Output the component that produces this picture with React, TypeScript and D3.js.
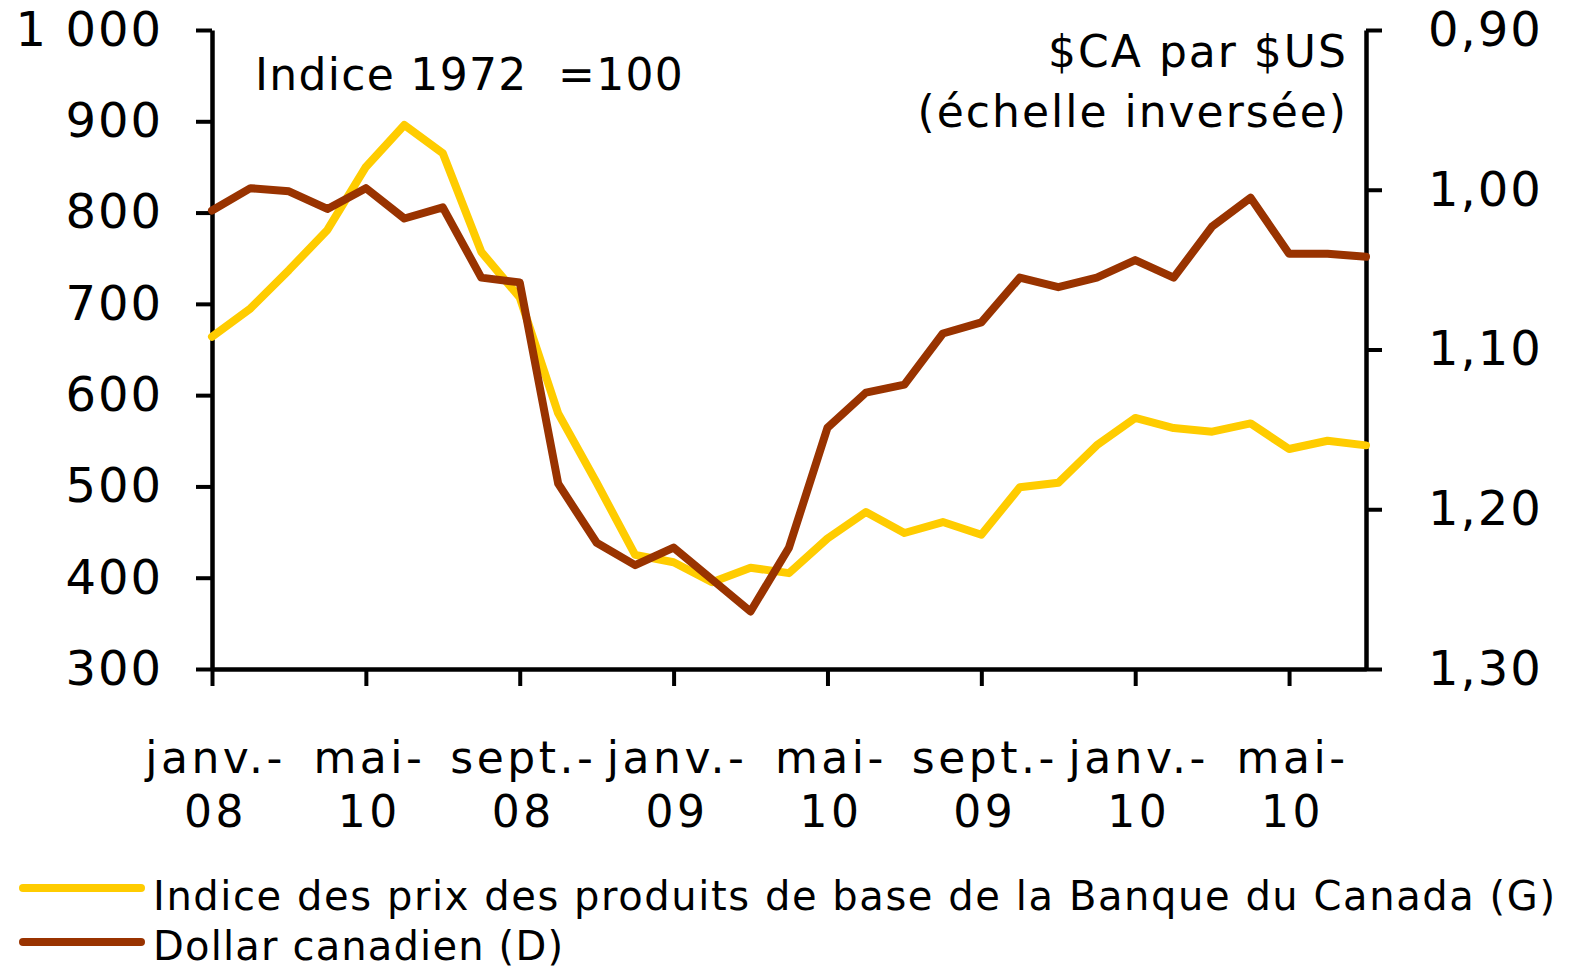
import React, { useRef, useEffect } from "react";
import * as d3 from "d3";

// monthly, janv. 2008 .. juil. 2010
const months = [
  "2008-01", "2008-02", "2008-03", "2008-04", "2008-05", "2008-06", "2008-07", "2008-08",
  "2008-09", "2008-10", "2008-11", "2008-12", "2009-01", "2009-02", "2009-03", "2009-04",
  "2009-05", "2009-06", "2009-07", "2009-08", "2009-09", "2009-10", "2009-11", "2009-12",
  "2010-01", "2010-02", "2010-03", "2010-04", "2010-05", "2010-06", "2010-07",
];

// Indice des prix des produits de base (G), 1972 = 100
const commodityIndex = [
  664, 695, 737, 781, 850, 896, 865, 757, 707, 580, 504, 425, 417, 395, 411, 405,
  443, 472, 449, 461, 447, 499, 504, 545, 575, 564, 560, 569, 541, 550, 545,
];

// Dollar canadien (D), $CA par $US
const cadPerUsd = [
  1.013, 0.999, 1.001, 1.012, 0.999, 1.018, 1.011, 1.055, 1.058, 1.184, 1.221, 1.235,
  1.224, 1.244, 1.264, 1.224, 1.149, 1.127, 1.122, 1.09, 1.083, 1.055, 1.061, 1.055,
  1.044, 1.055, 1.023, 1.005, 1.04, 1.04, 1.042,
];

const leftTicks = [300, 400, 500, 600, 700, 800, 900, 1000];
const rightTicks = [0.9, 1.0, 1.1, 1.2, 1.3];
const xTickIdx = [0, 4, 8, 12, 16, 20, 24, 28];
const xTickLabels = [
  ["janv.-", "08"], ["mai-", "10"], ["sept.-", "08"], ["janv.-", "09"],
  ["mai-", "10"], ["sept.-", "09"], ["janv.-", "10"], ["mai-", "10"],
];

const seriesNames = [
  "Indice des prix des produits de base de la Banque du Canada (G)",
  "Dollar canadien (D)",
];
const YELLOW = "#ffcc00";
const BROWN = "#993300";
const FONT = "'DejaVu Sans', Verdana, sans-serif";

export default function App() {
  const ref = useRef<SVGSVGElement>(null);
  const width = 1572;
  const height = 972;

  useEffect(() => {
    const svg = d3.select(ref.current);
    svg.selectAll("*").remove();

    const left = 212, right = 1366, top = 30, bottom = 669;

    const x = d3.scaleLinear().domain([0, months.length - 1]).range([left, right]);
    const yL = d3.scaleLinear().domain([300, 1000]).range([bottom, top]);
    const yR = d3.scaleLinear().domain([0.9, 1.3]).range([top, bottom]); // inverted

    const styleAxis = (g) => {
      g.select(".domain").attr("stroke", "#000").attr("stroke-width", 4.5);
      g.selectAll(".tick line").attr("stroke", "#000").attr("stroke-width", 4);
      g.selectAll("text")
        .attr("fill", "#000")
        .attr("font-family", FONT)
        .attr("font-size", 48)
        .attr("letter-spacing", 2);
    };

    // left axis
    svg.append("g")
      .attr("transform", `translate(${left},0)`)
      .call(
        d3.axisLeft(yL)
          .tickValues(leftTicks)
          .tickSize(16)
          .tickSizeOuter(0)
          .tickPadding(33)
          .tickFormat((d) => (d >= 1000 ? d3.format(",")(d).replace(",", " ") : String(d)))
      )
      .call(styleAxis);

    // right axis
    svg.append("g")
      .attr("transform", `translate(${right},0)`)
      .call(
        d3.axisRight(yR)
          .tickValues(rightTicks)
          .tickSize(16)
          .tickSizeOuter(0)
          .tickPadding(46)
          .tickFormat((d) => d3.format(".2f")(d).replace(".", ","))
      )
      .call(styleAxis);

    // bottom axis
    const gx = svg.append("g")
      .attr("transform", `translate(0,${bottom})`)
      .call(d3.axisBottom(x).tickValues(xTickIdx).tickSize(17).tickSizeOuter(0).tickFormat(() => ""))
      .call(styleAxis);
    gx.selectAll(".tick text").remove();
    gx.selectAll(".tick").each(function (d, i) {
      const t = d3.select(this).append("text")
        .attr("fill", "#000")
        .attr("font-family", FONT)
        .attr("font-size", 44)
        .attr("letter-spacing", 3.5)
        .attr("text-anchor", "middle");
      t.append("tspan").attr("x", 3).attr("y", 104).text(xTickLabels[i][0]);
      t.append("tspan").attr("x", 3).attr("y", 158).text(xTickLabels[i][1]);
    });

    // series
    const lineL = d3.line<number>().x((d, i) => x(i)).y((d) => yL(d));
    const lineR = d3.line<number>().x((d, i) => x(i)).y((d) => yR(d));

    svg.append("path")
      .datum(commodityIndex)
      .attr("fill", "none")
      .attr("stroke", YELLOW)
      .attr("stroke-width", 8)
      .attr("stroke-linejoin", "round")
      .attr("stroke-linecap", "round")
      .attr("d", lineL);

    svg.append("path")
      .datum(cadPerUsd)
      .attr("fill", "none")
      .attr("stroke", BROWN)
      .attr("stroke-width", 8)
      .attr("stroke-linejoin", "round")
      .attr("stroke-linecap", "round")
      .attr("d", lineR);

    // annotations
    svg.append("text")
      .attr("x", 255).attr("y", 90)
      .attr("font-family", FONT).attr("font-size", 44).attr("letter-spacing", 1.3)
      .style("white-space", "pre")
      .text("Indice 1972  =100");

    svg.append("text")
      .attr("x", 1348).attr("y", 67)
      .attr("text-anchor", "end")
      .attr("font-family", FONT).attr("font-size", 44).attr("letter-spacing", 2)
      .text("$CA par $US");

    svg.append("text")
      .attr("x", 1348).attr("y", 127)
      .attr("text-anchor", "end")
      .attr("font-family", FONT).attr("font-size", 44).attr("letter-spacing", 2)
      .text("(échelle inversée)");

    // legend
    const legend = [
      { name: seriesNames[0], color: YELLOW, y: 888, ty: 910, len: 1402 },
      { name: seriesNames[1], color: BROWN, y: 942, ty: 960, len: 410 },
    ];
    const lg = svg.append("g");
    legend.forEach((l) => {
      lg.append("line")
        .attr("x1", 23).attr("x2", 141)
        .attr("y1", l.y).attr("y2", l.y)
        .attr("stroke", l.color)
        .attr("stroke-width", 8)
        .attr("stroke-linecap", "round");
      lg.append("text")
        .attr("x", 153).attr("y", l.ty)
        .attr("font-family", FONT).attr("font-size", 40)
        .attr("textLength", l.len)
        .attr("lengthAdjust", "spacing")
        .text(l.name);
    });
  }, []);

  return (
    <svg
      ref={ref}
      width={width}
      height={height}
      style={{ position: "absolute", left: 0, top: 0, background: "#fff" }}
    ></svg>
  );
}
